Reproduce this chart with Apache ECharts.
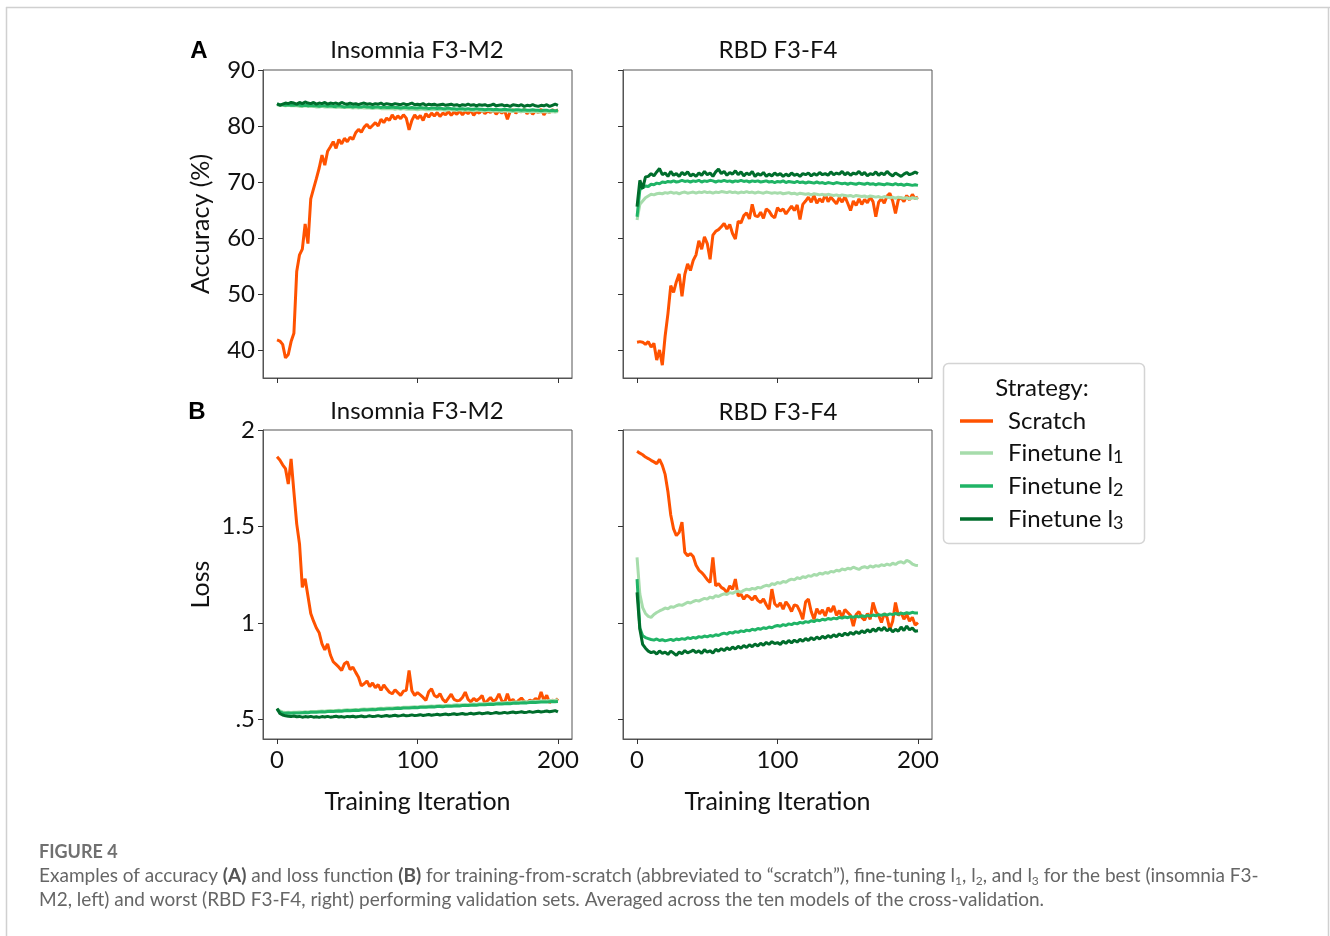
<!DOCTYPE html>
<html><head><meta charset="utf-8">
<script src="https://cdn.jsdelivr.net/npm/echarts@6/dist/echarts.min.js"></script>
<style>html,body{margin:0;padding:0;background:#fff}#c{width:1330px;height:936px}</style>
</head><body><div id="c"></div>
<script>
// ---- data (iterations 0,2,4,...,200) ----
const STEP = 2;
const xTicks = [0, 100, 200];
const accTicks = [40, 50, 60, 70, 80, 90];
const lossTicks = [0.5, 1, 1.5, 2];
const lossTickLabels = ['.5', '1', '1.5', '2'];
const panelTitles = ['Insomnia F3-M2', 'RBD F3-F4'];
const strategies = ['Scratch', 'Finetune l1', 'Finetune l2', 'Finetune l3'];

const insAccScratch = [41.8,41.6,41.0,38.6,39.2,41.5,43.0,54.0,57.0,58.0,
62.5,59.0,67.0,68.8,70.6,72.5,74.8,73.0,75.5,76.3,
77.2,76.0,77.6,76.8,77.8,77.2,78.0,77.6,78.8,79.4,
78.9,79.8,80.3,79.6,80.1,80.6,80.0,81.2,80.6,81.4,
81.0,82.0,81.2,81.8,81.3,82.0,81.4,79.3,81.0,82.0,
81.3,81.9,81.0,82.2,81.6,82.3,81.8,82.4,81.7,82.3,
82.0,82.6,81.9,82.5,82.1,82.7,82.0,82.6,82.2,82.8,
81.9,82.6,82.3,82.9,82.2,82.7,82.4,82.9,82.1,82.7,
82.3,82.8,81.2,82.6,82.9,82.3,82.8,82.5,83.0,82.2,
82.8,82.1,82.7,82.4,83.0,82.0,82.7,82.4,82.9,82.6,
82.9];
const insAccL1 = [83.8,83.7,83.7,83.6,83.7,83.6,83.6,83.6,83.5,83.5,
83.6,83.5,83.5,83.5,83.4,83.4,83.5,83.4,83.4,83.4,
83.4,83.3,83.4,83.3,83.3,83.3,83.3,83.2,83.3,83.2,
83.3,83.2,83.2,83.2,83.1,83.2,83.2,83.1,83.1,83.1,
83.1,83.1,83.0,83.1,83.0,83.1,83.0,83.0,83.0,83.0,
82.9,83.0,83.0,82.9,82.9,82.9,83.0,82.9,82.9,82.9,
82.8,82.9,82.9,82.8,82.8,82.9,82.8,82.8,82.8,82.8,
82.7,82.8,82.8,82.7,82.7,82.8,82.7,82.7,82.7,82.7,
82.6,82.7,82.7,82.6,82.6,82.7,82.6,82.6,82.6,82.6,
82.5,82.6,82.6,82.5,82.5,82.6,82.5,82.5,82.6,82.5,
82.6];
const insAccL2 = [83.9,83.8,83.8,83.7,83.8,83.7,83.7,83.8,83.7,83.6,
83.7,83.6,83.7,83.6,83.6,83.5,83.6,83.6,83.5,83.6,
83.5,83.5,83.6,83.5,83.4,83.5,83.5,83.4,83.5,83.4,
83.4,83.5,83.4,83.4,83.3,83.4,83.4,83.3,83.4,83.3,
83.3,83.4,83.3,83.3,83.2,83.3,83.3,83.2,83.3,83.2,
83.2,83.3,83.2,83.2,83.1,83.2,83.2,83.1,83.2,83.1,
83.1,83.2,83.1,83.1,83.0,83.1,83.1,83.0,83.1,83.0,
83.0,83.1,83.0,83.0,82.9,83.0,83.0,82.9,83.0,82.9,
82.9,83.0,82.9,82.9,82.8,82.9,82.9,82.8,82.9,82.8,
82.8,82.9,82.8,82.8,82.7,82.8,82.8,82.7,82.8,82.7,
82.8];
const insAccL3 = [84.0,83.7,83.9,84.1,84.0,84.2,84.1,83.9,84.2,84.0,
84.3,84.1,84.0,84.2,83.9,84.1,84.0,84.2,83.9,84.1,
84.0,84.1,83.9,84.2,84.0,83.9,84.1,83.9,84.0,83.8,
84.0,84.1,83.9,84.0,83.8,84.0,83.9,84.1,83.8,84.0,
83.9,83.8,84.0,83.9,83.8,84.0,83.8,83.9,84.1,83.8,
83.9,83.8,84.0,83.7,83.9,83.8,83.9,83.7,83.8,83.9,
83.7,83.8,83.9,83.7,83.8,83.6,83.8,83.7,83.9,83.7,
83.8,83.6,83.8,83.7,83.8,83.6,83.7,83.9,83.6,83.7,
83.8,83.6,83.7,83.5,83.8,83.7,83.6,83.8,83.5,83.7,
83.6,83.8,83.6,83.5,83.7,83.6,83.8,83.5,83.7,83.9,
83.7];

const rbdAccScratch = [41.4,41.5,41.4,41.0,41.5,40.5,41.2,38.2,40.0,37.3,
42.5,46.5,51.5,50.3,52.2,53.6,49.6,53.5,55.4,54.2,
56.0,57.0,59.5,58.0,60.2,59.0,56.2,60.5,61.2,61.5,
62.0,62.6,61.6,62.4,60.8,59.8,63.0,62.7,64.0,64.5,
63.4,66.0,64.0,63.8,64.6,63.5,65.2,64.8,64.0,63.6,
65.4,64.8,65.2,64.3,65.0,65.7,64.9,65.9,63.3,66.0,
66.6,67.3,66.4,67.6,66.2,67.0,66.4,67.8,66.5,67.3,
66.7,66.1,67.2,66.4,67.4,66.2,64.9,66.6,65.8,67.0,
66.0,66.9,66.3,67.3,66.5,63.8,66.4,67.0,66.2,67.5,
68.0,66.6,64.4,66.8,67.2,66.5,67.6,66.8,67.8,67.0,
67.3];
const rbdAccL1 = [63.2,66.0,66.6,67.2,67.5,67.8,67.7,67.9,68.0,67.9,
68.1,68.0,68.2,68.0,68.1,67.9,68.1,68.2,68.0,68.1,
68.2,68.0,68.2,68.1,68.3,68.1,68.2,68.0,68.2,68.1,
68.3,68.2,68.1,68.3,68.1,68.2,68.0,68.2,68.1,68.3,
68.1,68.2,68.0,68.2,68.1,68.0,68.2,68.1,68.0,68.1,
68.0,68.1,67.9,68.0,68.1,67.9,68.0,67.8,68.0,67.9,
67.8,67.9,67.7,67.9,67.8,67.7,67.8,67.6,67.8,67.7,
67.6,67.7,67.5,67.7,67.6,67.5,67.6,67.4,67.6,67.5,
67.4,67.5,67.3,67.5,67.4,67.3,67.4,67.2,67.4,67.3,
67.2,67.3,67.1,67.3,67.2,67.1,67.2,67.0,67.2,67.1,
67.0];
const rbdAccL2 = [63.8,68.6,69.0,69.3,69.2,69.6,69.5,69.8,69.7,70.0,
69.9,70.1,70.0,70.2,70.0,70.1,70.3,70.1,70.2,70.0,
70.2,70.1,70.3,70.0,70.2,70.1,70.3,70.2,70.0,70.2,
70.1,70.3,70.1,70.2,70.0,70.2,70.1,70.3,70.1,70.2,
70.0,70.2,70.1,70.2,70.0,70.1,70.2,70.0,70.1,69.9,
70.1,70.0,70.2,69.9,70.1,70.0,69.9,70.1,69.9,70.0,
69.8,70.0,69.9,69.8,70.0,69.8,69.9,69.7,69.9,69.8,
69.7,69.9,69.8,69.7,69.8,69.6,69.8,69.7,69.6,69.8,
69.7,69.6,69.8,69.6,69.7,69.5,69.7,69.6,69.5,69.7,
69.6,69.5,69.7,69.5,69.6,69.4,69.6,69.5,69.4,69.5,
69.4];
const rbdAccL3 = [65.6,70.3,68.8,70.9,71.0,71.5,71.1,71.8,72.4,71.3,
71.6,71.0,71.9,71.2,71.5,71.0,71.7,71.3,71.8,71.1,
71.4,71.0,71.6,71.2,71.9,71.3,71.6,71.0,71.8,72.3,
71.5,71.9,71.2,71.7,71.4,72.0,71.3,71.8,71.1,71.6,
71.3,71.9,71.0,71.5,71.2,71.7,71.0,71.4,71.1,71.6,
71.2,71.5,71.0,71.4,71.1,71.6,71.2,71.4,71.0,71.5,
71.3,71.6,71.1,71.5,71.2,71.7,71.3,71.5,71.2,71.8,
71.3,71.6,71.4,71.9,71.3,71.7,71.2,71.6,71.4,71.9,
71.3,71.7,71.1,71.5,71.3,71.8,71.2,71.6,71.3,71.9,
71.4,71.1,71.6,71.3,71.0,71.4,71.7,71.3,71.5,71.8,
71.5];

const insLossScratch = [1.862,1.845,1.820,1.800,1.720,1.850,1.680,1.514,1.410,1.185,
1.230,1.140,1.050,1.010,0.975,0.950,0.893,0.862,0.893,0.835,
0.800,0.786,0.772,0.755,0.790,0.800,0.760,0.772,0.745,0.720,
0.675,0.686,0.700,0.672,0.690,0.665,0.682,0.652,0.680,0.660,
0.642,0.634,0.655,0.640,0.626,0.648,0.652,0.755,0.650,0.626,
0.640,0.628,0.615,0.600,0.645,0.660,0.625,0.617,0.635,0.605,
0.591,0.612,0.632,0.605,0.598,0.600,0.615,0.643,0.605,0.592,
0.610,0.598,0.609,0.625,0.583,0.600,0.615,0.595,0.605,0.634,
0.598,0.588,0.634,0.592,0.605,0.585,0.600,0.612,0.594,0.588,
0.602,0.595,0.610,0.598,0.643,0.600,0.626,0.588,0.602,0.595,
0.609];
const insLossL1 = [0.556,0.546,0.540,0.537,0.538,0.537,0.539,0.538,0.540,0.539,
0.541,0.540,0.542,0.543,0.542,0.544,0.545,0.544,0.546,0.547,
0.546,0.548,0.549,0.548,0.550,0.551,0.550,0.552,0.553,0.552,
0.554,0.555,0.554,0.556,0.557,0.556,0.558,0.559,0.558,0.560,
0.561,0.560,0.562,0.563,0.562,0.564,0.565,0.564,0.566,0.567,
0.566,0.568,0.569,0.568,0.570,0.571,0.570,0.572,0.573,0.572,
0.574,0.575,0.574,0.576,0.577,0.576,0.578,0.579,0.578,0.580,
0.581,0.580,0.582,0.583,0.582,0.584,0.585,0.584,0.586,0.587,
0.586,0.588,0.589,0.588,0.590,0.591,0.590,0.592,0.593,0.592,
0.594,0.595,0.596,0.595,0.597,0.598,0.597,0.599,0.600,0.601,
0.603];
const insLossL2 = [0.552,0.541,0.535,0.533,0.534,0.533,0.535,0.534,0.535,0.536,
0.537,0.536,0.538,0.539,0.538,0.540,0.541,0.540,0.542,0.543,
0.542,0.544,0.545,0.544,0.546,0.547,0.546,0.548,0.549,0.548,
0.550,0.551,0.550,0.552,0.553,0.552,0.554,0.555,0.554,0.556,
0.557,0.556,0.558,0.559,0.558,0.560,0.561,0.560,0.562,0.563,
0.562,0.564,0.565,0.564,0.566,0.567,0.566,0.568,0.568,0.567,
0.569,0.570,0.569,0.571,0.572,0.571,0.573,0.574,0.573,0.575,
0.576,0.575,0.577,0.578,0.577,0.579,0.580,0.579,0.581,0.582,
0.581,0.583,0.584,0.583,0.585,0.586,0.585,0.587,0.588,0.587,
0.589,0.590,0.589,0.590,0.591,0.592,0.591,0.593,0.594,0.593,
0.594];
const insLossL3 = [0.558,0.532,0.524,0.520,0.518,0.516,0.519,0.515,0.517,0.513,
0.516,0.514,0.517,0.513,0.515,0.512,0.516,0.514,0.517,0.513,
0.515,0.518,0.514,0.516,0.513,0.517,0.515,0.518,0.514,0.516,
0.519,0.515,0.517,0.520,0.516,0.518,0.521,0.517,0.519,0.522,
0.518,0.520,0.523,0.519,0.521,0.524,0.520,0.522,0.525,0.521,
0.523,0.526,0.522,0.524,0.527,0.523,0.525,0.528,0.524,0.527,
0.529,0.526,0.528,0.531,0.527,0.529,0.532,0.528,0.530,0.533,
0.529,0.532,0.535,0.531,0.533,0.536,0.532,0.534,0.537,0.533,
0.535,0.538,0.534,0.537,0.540,0.536,0.538,0.541,0.537,0.539,
0.542,0.538,0.541,0.544,0.540,0.542,0.545,0.541,0.544,0.547,
0.540];

const rbdLossScratch = [1.890,1.880,1.872,1.860,1.852,1.843,1.835,1.826,1.848,1.817,
1.770,1.680,1.560,1.488,1.453,1.470,1.523,1.367,1.349,1.360,
1.345,1.300,1.275,1.262,1.245,1.225,1.210,1.340,1.193,1.205,
1.185,1.176,1.158,1.193,1.175,1.228,1.141,1.150,1.124,1.145,
1.135,1.120,1.141,1.118,1.107,1.125,1.095,1.072,1.176,1.100,
1.085,1.105,1.072,1.110,1.090,1.060,1.095,1.089,1.060,1.020,
1.110,1.124,1.060,1.020,1.075,1.048,1.068,1.037,1.080,1.058,
1.089,1.040,1.065,1.030,1.070,1.055,1.040,0.985,1.045,1.060,
1.030,1.015,1.050,1.020,1.107,1.060,1.040,1.003,1.050,1.030,
0.968,1.010,1.107,1.040,1.055,1.020,1.045,1.010,1.030,0.990,
1.003];
const rbdLossL1 = [1.340,1.150,1.080,1.050,1.035,1.030,1.045,1.055,1.063,1.070,
1.078,1.074,1.085,1.082,1.090,1.095,1.092,1.100,1.108,1.104,
1.112,1.118,1.114,1.122,1.128,1.124,1.135,1.130,1.142,1.138,
1.146,1.152,1.148,1.158,1.154,1.162,1.166,1.160,1.170,1.176,
1.172,1.180,1.176,1.185,1.182,1.190,1.196,1.192,1.204,1.200,
1.210,1.206,1.216,1.212,1.222,1.228,1.224,1.235,1.230,1.240,
1.236,1.246,1.242,1.252,1.248,1.258,1.254,1.262,1.258,1.268,
1.265,1.274,1.270,1.280,1.276,1.284,1.280,1.290,1.284,1.278,
1.288,1.292,1.286,1.296,1.290,1.298,1.294,1.302,1.298,1.306,
1.300,1.310,1.304,1.314,1.318,1.310,1.325,1.318,1.306,1.300,
1.298];
const rbdLossL2 = [1.228,0.975,0.935,0.925,0.920,0.915,0.912,0.918,0.910,0.914,
0.908,0.912,0.916,0.910,0.918,0.914,0.920,0.916,0.924,0.920,
0.926,0.922,0.930,0.926,0.933,0.929,0.936,0.932,0.940,0.936,
0.944,0.948,0.943,0.952,0.948,0.956,0.952,0.960,0.956,0.964,
0.960,0.968,0.964,0.972,0.968,0.976,0.972,0.980,0.976,0.984,
0.988,0.984,0.992,0.988,0.996,0.992,1.000,0.996,1.004,1.000,
1.008,1.004,1.012,1.008,1.016,1.012,1.020,1.016,1.024,1.020,
1.026,1.022,1.030,1.026,1.032,1.028,1.034,1.030,1.036,1.032,
1.038,1.034,1.040,1.036,1.042,1.038,1.044,1.040,1.046,1.042,
1.048,1.044,1.050,1.046,1.052,1.048,1.054,1.050,1.056,1.052,
1.052];
const rbdLossL3 = [1.159,0.968,0.890,0.870,0.855,0.847,0.852,0.840,0.856,0.843,
0.850,0.838,0.855,0.845,0.833,0.850,0.842,0.858,0.846,0.852,
0.860,0.848,0.856,0.843,0.862,0.850,0.857,0.845,0.864,0.855,
0.868,0.858,0.872,0.862,0.876,0.866,0.880,0.870,0.884,0.874,
0.888,0.878,0.892,0.882,0.896,0.886,0.900,0.890,0.904,0.894,
0.899,0.890,0.906,0.895,0.910,0.898,0.912,0.902,0.916,0.906,
0.920,0.910,0.925,0.914,0.928,0.918,0.932,0.922,0.936,0.926,
0.940,0.930,0.944,0.934,0.948,0.938,0.952,0.942,0.956,0.946,
0.960,0.950,0.966,0.954,0.970,0.958,0.975,0.962,0.978,0.960,
0.972,0.955,0.968,0.958,0.980,0.962,0.985,0.965,0.975,0.958,
0.960];

// ---- styling ----
const FONT = 'Lato';
const colors = ['#ff5200', '#a6dcab', '#20b466', '#006d2c'];
const grids = [
  {left: 263, top: 70, width: 309, height: 308},
  {left: 623, top: 70, width: 309, height: 308},
  {left: 263, top: 430, width: 309, height: 309},
  {left: 623, top: 430, width: 309, height: 309}
];
const panelData = [
  [insAccScratch, insAccL1, insAccL2, insAccL3],
  [rbdAccScratch, rbdAccL1, rbdAccL2, rbdAccL3],
  [insLossScratch, insLossL1, insLossL2, insLossL3],
  [rbdLossScratch, rbdLossL1, rbdLossL2, rbdLossL3]
];

const xAxes = grids.map((g, i) => ({
  type: 'value', gridIndex: i, min: -10, max: 210,
  splitLine: {show: false},
  axisLine: {show: true, onZero: false, lineStyle: {color: '#555', width: 1}},
  axisTick: {show: true, inside: false, length: 5, customValues: xTicks, lineStyle: {color: '#333'}},
  axisLabel: {show: i >= 2, customValues: xTicks, fontSize: 24, color: '#111', fontFamily: FONT, margin: 9},
  name: i >= 2 ? 'Training Iteration' : '',
  nameLocation: 'middle', nameGap: 50,
  nameTextStyle: {fontSize: 25, color: '#111', fontFamily: FONT}
}));
const yAxes = grids.map((g, i) => {
  const acc = i < 2;
  return {
    type: 'value', gridIndex: i,
    min: acc ? 35 : 0.4, max: acc ? 90 : 2,
    splitLine: {show: false},
    axisLine: {show: true, onZero: false, lineStyle: {color: '#555', width: 1}},
    axisTick: {show: true, inside: false, length: 5, customValues: acc ? accTicks : lossTicks, lineStyle: {color: '#333'}},
    axisLabel: {
      show: i % 2 === 0, customValues: acc ? accTicks : lossTicks,
      fontSize: 24, color: '#111', fontFamily: FONT, margin: 8,
      formatter: v => acc ? String(v) : lossTickLabels[lossTicks.indexOf(v)]
    },
    name: i === 0 ? 'Accuracy (%)' : (i === 2 ? 'Loss' : ''),
    nameLocation: 'middle', nameGap: 50, nameRotate: 90,
    nameTextStyle: {fontSize: 25, color: '#111', fontFamily: FONT}
  };
});

const series = [];
panelData.forEach((arrs, gi) => {
  arrs.forEach((arr, si) => {
    series.push({
      type: 'line', name: strategies[si], xAxisIndex: gi, yAxisIndex: gi,
      data: arr.map((v, k) => [k * STEP, v]),
      symbol: 'none', showSymbol: false, z: 2 + si,
      lineStyle: {width: 3, color: colors[si]},
      itemStyle: {color: colors[si]}
    });
  });
});

const subRich = {
  m: {fontSize: 24, fontFamily: FONT, color: '#111', lineHeight: 26},
  s: {fontSize: 18, fontFamily: FONT, color: '#111', lineHeight: 6, verticalAlign: 'bottom'}
};

const cap = {fontSize: 19, fontFamily: FONT, fill: '#666', lineHeight: 22};
const capB = Object.assign({}, cap, {fontWeight: 'bold', fill: '#555'});
const capS = {fontSize: 12, fontFamily: FONT, fill: '#666', lineHeight: 12, verticalAlign: 'bottom'};

const option = {
  animation: false,
  backgroundColor: '#fff',
  grid: grids.map(g => Object.assign({show: true, borderColor: '#555', borderWidth: 1, backgroundColor: 'transparent'}, g)),
  xAxis: xAxes,
  yAxis: yAxes,
  series: series,
  legend: {
    orient: 'vertical', left: 960, top: 409, z: 10, padding: 0,
    data: strategies, icon: 'rect', itemWidth: 33, itemHeight: 3.5, itemGap: 8,
    formatter: n => {
      const m = n.match(/^Finetune l(\d)$/);
      return m ? '{m|Finetune l}{s|' + m[1] + '}' : '{m|' + n + '}';
    },
    textStyle: {padding: [0, 0, 0, 10], rich: subRich}
  },
  graphic: [
    {type: 'line', shape: {x1: 6, y1: 7.5, x2: 1330, y2: 7.5}, style: {stroke: '#d0d0d0', lineWidth: 1.5}},
    {type: 'line', shape: {x1: 6.5, y1: 7, x2: 6.5, y2: 936}, style: {stroke: '#d0d0d0', lineWidth: 1.5}},
    {type: 'line', shape: {x1: 1328.5, y1: 7, x2: 1328.5, y2: 936}, style: {stroke: '#d0d0d0', lineWidth: 1.5}},
    {type: 'rect', z: 1, shape: {x: 943.5, y: 363.5, width: 201, height: 180, r: 5}, style: {fill: '#fff', stroke: '#d4d4d4', lineWidth: 1.5}},
    {type: 'text', z: 5, style: {x: 1042, y: 388, text: 'Strategy:', textAlign: 'center', textVerticalAlign: 'middle', font: '24px ' + FONT, fill: '#111'}},
    {type: 'text', style: {x: 199, y: 51, text: 'A', textAlign: 'center', textVerticalAlign: 'middle', font: 'bold 24px "Liberation Sans"', fill: '#000'}},
    {type: 'text', style: {x: 197, y: 412, text: 'B', textAlign: 'center', textVerticalAlign: 'middle', font: 'bold 24px "Liberation Sans"', fill: '#000'}},
    {type: 'text', style: {x: 417, y: 50, text: panelTitles[0], textAlign: 'center', textVerticalAlign: 'middle', font: '24px ' + FONT, fill: '#111'}},
    {type: 'text', style: {x: 778, y: 50, text: panelTitles[1], textAlign: 'center', textVerticalAlign: 'middle', font: '24px ' + FONT, fill: '#111'}},
    {type: 'text', style: {x: 417, y: 411, text: panelTitles[0], textAlign: 'center', textVerticalAlign: 'middle', font: '24px ' + FONT, fill: '#111'}},
    {type: 'text', style: {x: 778, y: 412, text: panelTitles[1], textAlign: 'center', textVerticalAlign: 'middle', font: '24px ' + FONT, fill: '#111'}},
    {type: 'text', style: {x: 39, y: 852, text: 'FIGURE 4', textVerticalAlign: 'middle', font: 'bold 18px ' + FONT, fill: '#707070'}},
    {type: 'text', style: {x: 39, y: 876, textVerticalAlign: 'middle',
      text: '{t|Examples of accuracy }{b|(A)}{t| and loss function }{b|(B)}{t| for training-from-scratch (abbreviated to \u201cscratch\u201d), fine-tuning l}{s|1}{t|, l}{s|2}{t|, and l}{s|3}{t| for the best (insomnia F3-}',
      rich: {t: cap, b: capB, s: capS}}},
    {type: 'text', style: {x: 39, y: 900, textVerticalAlign: 'middle',
      text: 'M2, left) and worst (RBD F3-F4, right) performing validation sets. Averaged across the ten models of the cross-validation.',
      font: '19px ' + FONT, fill: '#666'}}
  ]
};
const chart = echarts.init(document.getElementById('c'), null, {renderer: 'canvas'});
chart.setOption(option);
</script></body></html>
